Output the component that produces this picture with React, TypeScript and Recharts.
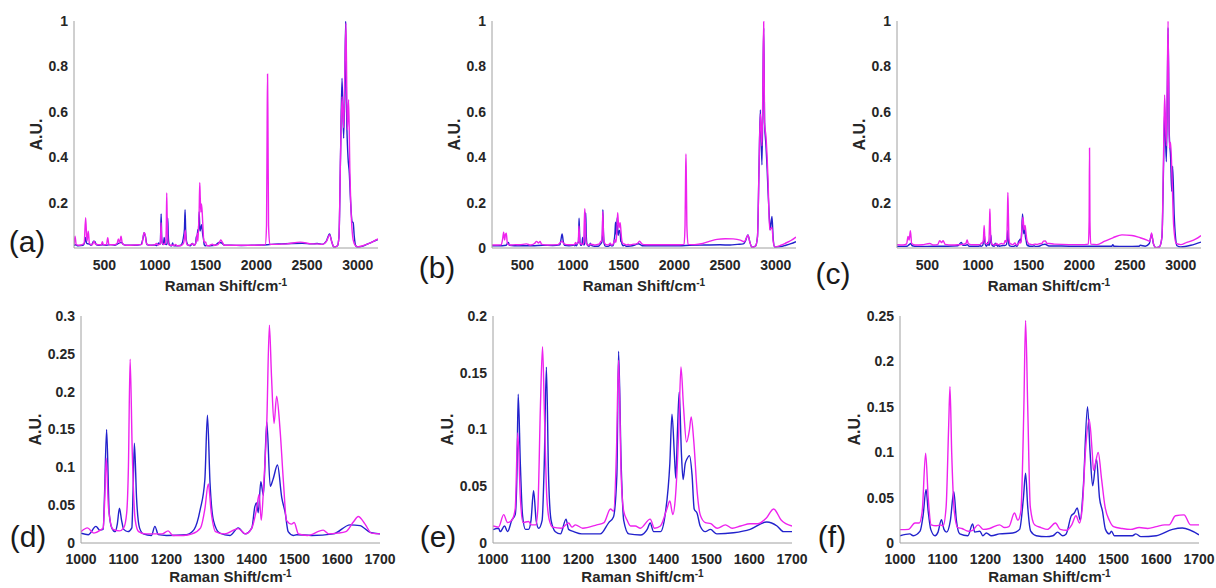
import React from "react";
import { Label, Line, LineChart, XAxis, YAxis } from "recharts";

// ---- spectra, [shift, intensity] pairs ----
// full-range pieces (200-1000 and 1700-3200) + zoomed 1000-1700 pieces

const aBlueLow = [[200,0.012],[215,0.014],[240,0.01],[290,0.012],[305,0.025],[315,0.046],[325,0.02],[345,0.018],[370,0.012],[395,0.03],[405,0.028],[420,0.015],[440,0.012],[480,0.014],[520,0.012],[560,0.015],[600,0.012],[640,0.02],[665,0.025],[690,0.015],[720,0.012],[800,0.012],[860,0.015],[880,0.04],[892,0.067],[905,0.05],[920,0.015],[950,0.012]];
const aMagLow = [[200,0.015],[210,0.052],[222,0.015],[250,0.012],[300,0.02],[315,0.133],[328,0.03],[341,0.074],[352,0.02],[380,0.014],[398,0.03],[410,0.018],[440,0.014],[470,0.014],[480,0.028],[490,0.014],[520,0.014],[533,0.045],[545,0.014],[600,0.014],[625,0.02],[638,0.04],[650,0.022],[664,0.052],[678,0.018],[720,0.012],[800,0.013],[870,0.016],[882,0.05],[892,0.067],[902,0.06],[915,0.02],[950,0.012],[990,0.014]];
const aBlueHigh = [[1750,0.012],[1850,0.011],[1950,0.012],[2050,0.013],[2150,0.016],[2250,0.018],[2350,0.02],[2450,0.021],[2550,0.018],[2600,0.02],[2650,0.016],[2690,0.03],[2722,0.062],[2745,0.025],[2765,0.004],[2800,0.01],[2815,0.05],[2830,0.4],[2845,0.748],[2861,0.484],[2872,0.7],[2881,1.0],[2890,0.6],[2904,0.4],[2917,0.33],[2930,0.2],[2945,0.115],[2955,0.112],[2966,0.05],[2980,0.01],[3000,0.004],[3050,0.008],[3100,0.018],[3150,0.028],[3200,0.038]];
const aMagHigh = [[1750,0.012],[1900,0.012],[2050,0.013],[2088,0.015],[2100,0.1],[2106,0.55],[2110,0.766],[2114,0.55],[2120,0.1],[2132,0.016],[2200,0.016],[2300,0.018],[2433,0.026],[2550,0.018],[2600,0.018],[2650,0.016],[2690,0.028],[2722,0.058],[2745,0.025],[2765,0.004],[2800,0.01],[2815,0.05],[2830,0.4],[2845,0.667],[2861,0.53],[2872,0.75],[2884,0.99],[2897,0.52],[2910,0.653],[2922,0.35],[2935,0.155],[2950,0.05],[2965,0.02],[2985,0.008],[3000,0.005],[3050,0.01],[3100,0.018],[3150,0.028],[3200,0.04]];

const dBlue = [[1000,0.013],[1017,0.011],[1035,0.022],[1044,0.017],[1052,0.018],[1055,0.062],[1060,0.15],[1066,0.04],[1072,0.02],[1080,0.015],[1085,0.025],[1090,0.046],[1095,0.03],[1100,0.018],[1110,0.015],[1119,0.02],[1122,0.07],[1125,0.132],[1130,0.06],[1137,0.02],[1146,0.012],[1165,0.01],[1173,0.022],[1181,0.011],[1200,0.01],[1247,0.011],[1265,0.018],[1279,0.044],[1290,0.084],[1296,0.169],[1302,0.08],[1310,0.03],[1325,0.013],[1349,0.01],[1368,0.02],[1384,0.012],[1400,0.02],[1407,0.048],[1411,0.053],[1415,0.04],[1421,0.081],[1427,0.063],[1435,0.16],[1443,0.075],[1450,0.085],[1460,0.103],[1470,0.06],[1478,0.04],[1485,0.015],[1497,0.01],[1505,0.011],[1540,0.01],[1591,0.012],[1630,0.024],[1653,0.023],[1677,0.014],[1700,0.012]];
const dMag = [[1000,0.015],[1015,0.02],[1030,0.013],[1045,0.017],[1052,0.02],[1055,0.05],[1059,0.112],[1064,0.05],[1068,0.03],[1075,0.018],[1090,0.016],[1100,0.02],[1107,0.04],[1111,0.1],[1115,0.243],[1120,0.12],[1127,0.03],[1135,0.015],[1150,0.012],[1190,0.012],[1204,0.016],[1215,0.01],[1240,0.01],[1260,0.012],[1280,0.02],[1290,0.045],[1298,0.078],[1305,0.04],[1315,0.015],[1335,0.012],[1368,0.019],[1385,0.012],[1400,0.02],[1411,0.045],[1417,0.064],[1422,0.03],[1428,0.08],[1435,0.16],[1441,0.288],[1446,0.22],[1452,0.158],[1458,0.194],[1466,0.15],[1474,0.08],[1481,0.03],[1493,0.025],[1499,0.027],[1509,0.012],[1530,0.01],[1567,0.017],[1580,0.012],[1600,0.013],[1620,0.015],[1638,0.028],[1649,0.035],[1665,0.025],[1680,0.013],[1700,0.012]];

const bBlueLow = [[200,0.01],[300,0.01],[340,0.012],[352,0.02],[362,0.025],[372,0.012],[420,0.01],[500,0.01],[600,0.01],[700,0.012],[800,0.011],[870,0.014],[880,0.035],[892,0.062],[903,0.03],[915,0.012],[960,0.01]];
const bMagLow = [[200,0.013],[290,0.014],[305,0.04],[315,0.07],[325,0.035],[333,0.06],[341,0.065],[352,0.02],[380,0.013],[430,0.015],[470,0.014],[540,0.018],[580,0.013],[620,0.02],[640,0.029],[660,0.022],[675,0.029],[690,0.016],[750,0.013],[850,0.015],[892,0.03],[910,0.018],[960,0.014]];
const bBlueHigh = [[1750,0.01],[1900,0.01],[2050,0.01],[2150,0.012],[2300,0.013],[2450,0.014],[2550,0.013],[2620,0.016],[2680,0.018],[2700,0.03],[2726,0.058],[2745,0.025],[2766,0.003],[2800,0.008],[2820,0.05],[2835,0.35],[2848,0.608],[2864,0.366],[2874,0.7],[2881,0.97],[2890,0.55],[2904,0.45],[2915,0.35],[2924,0.25],[2935,0.15],[2945,0.08],[2963,0.139],[2975,0.04],[2990,0.004],[3050,0.006],[3100,0.012],[3150,0.019],[3200,0.028]];
const bMagHigh = [[1750,0.014],[1900,0.014],[2050,0.014],[2095,0.016],[2105,0.1],[2110,0.3],[2114,0.414],[2118,0.3],[2123,0.1],[2135,0.016],[2200,0.015],[2280,0.02],[2350,0.03],[2420,0.038],[2502,0.041],[2580,0.04],[2650,0.035],[2690,0.028],[2726,0.056],[2745,0.025],[2766,0.003],[2800,0.008],[2820,0.05],[2835,0.35],[2848,0.59],[2864,0.45],[2874,0.75],[2881,0.997],[2890,0.55],[2904,0.49],[2915,0.4],[2924,0.3],[2940,0.08],[2963,0.09],[2975,0.03],[2990,0.005],[3050,0.012],[3100,0.022],[3150,0.033],[3200,0.048]];

const eBlue = [[1000,0.0117],[1013,0.013],[1017,0.01],[1027,0.015],[1034,0.01],[1044,0.02],[1052,0.025],[1056,0.06],[1059,0.131],[1064,0.07],[1069,0.025],[1076,0.012],[1083,0.012],[1089,0.02],[1095,0.046],[1101,0.02],[1107,0.013],[1115,0.02],[1120,0.07],[1125,0.155],[1130,0.06],[1136,0.02],[1146,0.01],[1158,0.008],[1171,0.021],[1177,0.012],[1189,0.01],[1208,0.008],[1251,0.008],[1271,0.018],[1282,0.023],[1290,0.06],[1294,0.169],[1300,0.07],[1306,0.02],[1318,0.008],[1345,0.007],[1361,0.012],[1368,0.0176],[1376,0.01],[1392,0.01],[1403,0.025],[1414,0.07],[1419,0.1135],[1425,0.075],[1428,0.057],[1432,0.1],[1436,0.133],[1441,0.08],[1445,0.056],[1450,0.07],[1454,0.074],[1460,0.077],[1466,0.06],[1471,0.03],[1478,0.026],[1485,0.015],[1497,0.01],[1509,0.012],[1524,0.008],[1563,0.009],[1602,0.012],[1641,0.0185],[1665,0.015],[1680,0.01],[1700,0.01]];
const eMag = [[1000,0.015],[1013,0.014],[1025,0.025],[1034,0.018],[1044,0.02],[1052,0.03],[1058,0.097],[1064,0.04],[1070,0.018],[1083,0.019],[1090,0.016],[1100,0.016],[1105,0.03],[1111,0.12],[1116,0.173],[1120,0.12],[1126,0.04],[1132,0.02],[1140,0.014],[1160,0.013],[1177,0.0176],[1185,0.014],[1193,0.016],[1210,0.013],[1243,0.016],[1260,0.018],[1275,0.03],[1282,0.028],[1289,0.08],[1294,0.161],[1300,0.06],[1306,0.028],[1314,0.02],[1322,0.015],[1333,0.015],[1345,0.013],[1368,0.021],[1378,0.013],[1392,0.015],[1407,0.03],[1414,0.037],[1421,0.025],[1427,0.04],[1435,0.1],[1440,0.155],[1446,0.12],[1453,0.089],[1460,0.1],[1464,0.111],[1470,0.09],[1478,0.045],[1485,0.025],[1497,0.018],[1510,0.017],[1525,0.013],[1544,0.016],[1560,0.013],[1580,0.015],[1602,0.017],[1620,0.017],[1640,0.022],[1657,0.03],[1675,0.02],[1700,0.015]];

const cBlueLow = [[200,0.007],[300,0.008],[320,0.015],[335,0.02],[350,0.01],[400,0.007],[500,0.007],[600,0.008],[700,0.008],[800,0.01],[835,0.025],[850,0.012],[880,0.012],[895,0.015],[910,0.008],[960,0.008]];
const cMagLow = [[200,0.014],[260,0.013],[295,0.018],[309,0.051],[320,0.035],[332,0.076],[345,0.02],[380,0.013],[450,0.014],[523,0.02],[560,0.013],[600,0.015],[622,0.032],[640,0.024],[655,0.032],[675,0.016],[750,0.013],[800,0.014],[850,0.016],[880,0.02],[892,0.035],[905,0.018],[950,0.014]];
const cBlueHigh = [[1750,0.009],[1900,0.008],[2050,0.008],[2150,0.008],[2320,0.008],[2330,0.015],[2340,0.008],[2450,0.007],[2590,0.008],[2600,0.012],[2650,0.008],[2690,0.02],[2712,0.06],[2730,0.02],[2756,0.001],[2790,0.005],[2815,0.05],[2830,0.35],[2841,0.6],[2858,0.38],[2868,0.7],[2875,0.97],[2887,0.5],[2900,0.4],[2911,0.25],[2920,0.36],[2935,0.15],[2950,0.04],[2963,0.01],[3000,0.005],[3100,0.012],[3200,0.026]];
const cMagHigh = [[1750,0.017],[1900,0.015],[2050,0.015],[2088,0.017],[2096,0.12],[2100,0.44],[2104,0.12],[2112,0.017],[2173,0.015],[2250,0.03],[2330,0.045],[2420,0.058],[2518,0.055],[2600,0.045],[2667,0.035],[2695,0.03],[2712,0.066],[2730,0.02],[2756,0.001],[2790,0.005],[2815,0.05],[2830,0.4],[2841,0.674],[2858,0.45],[2868,0.75],[2875,1.0],[2887,0.44],[2900,0.466],[2915,0.3],[2930,0.1],[2955,0.02],[3000,0.015],[3060,0.025],[3100,0.03],[3150,0.04],[3200,0.055]];

const fBlue = [[1000,0.008],[1023,0.01],[1031,0.008],[1047,0.013],[1054,0.03],[1061,0.059],[1066,0.035],[1072,0.015],[1082,0.008],[1089,0.012],[1097,0.0257],[1103,0.015],[1109,0.012],[1118,0.025],[1126,0.0565],[1132,0.025],[1140,0.01],[1159,0.008],[1170,0.021],[1175,0.012],[1187,0.013],[1194,0.008],[1202,0.011],[1214,0.008],[1233,0.01],[1264,0.011],[1280,0.015],[1289,0.05],[1294,0.077],[1299,0.04],[1306,0.013],[1319,0.008],[1342,0.007],[1358,0.008],[1369,0.012],[1381,0.008],[1389,0.01],[1401,0.03],[1408,0.033],[1415,0.0385],[1422,0.025],[1429,0.06],[1439,0.15],[1445,0.1],[1451,0.063],[1460,0.0925],[1467,0.05],[1474,0.035],[1481,0.015],[1490,0.01],[1495,0.013],[1502,0.008],[1544,0.008],[1552,0.01],[1564,0.007],[1600,0.008],[1638,0.015],[1661,0.0165],[1700,0.009]];
const fMag = [[1000,0.0147],[1020,0.015],[1035,0.022],[1045,0.022],[1052,0.035],[1060,0.099],[1066,0.05],[1073,0.02],[1085,0.019],[1095,0.02],[1101,0.019],[1108,0.04],[1114,0.13],[1117,0.172],[1121,0.1],[1127,0.035],[1135,0.017],[1145,0.016],[1160,0.013],[1170,0.014],[1183,0.02],[1195,0.015],[1210,0.016],[1233,0.02],[1245,0.017],[1255,0.018],[1268,0.033],[1276,0.025],[1283,0.035],[1290,0.15],[1294,0.245],[1299,0.15],[1305,0.04],[1315,0.02],[1330,0.017],[1345,0.015],[1364,0.022],[1375,0.015],[1390,0.014],[1402,0.02],[1412,0.03],[1420,0.022],[1427,0.04],[1434,0.1],[1443,0.136],[1450,0.1],[1453,0.08],[1464,0.0997],[1472,0.07],[1480,0.04],[1490,0.025],[1500,0.018],[1520,0.016],[1540,0.015],[1560,0.017],[1580,0.016],[1600,0.018],[1620,0.02],[1630,0.02],[1645,0.03],[1665,0.031],[1680,0.02],[1700,0.02]];

const fullXTicks = [500, 1000, 1500, 2000, 2500, 3000];
const zoomXTicks = [1000, 1100, 1200, 1300, 1400, 1500, 1600, 1700];
const fullYTicks = [0.2, 0.4, 0.6, 0.8, 1];
const fullYTicksZero = [0, 0.2, 0.4, 0.6, 0.8, 1];
const dYTicks = [0, 0.05, 0.1, 0.15, 0.2, 0.25, 0.3];
const eYTicks = [0, 0.05, 0.1, 0.15, 0.2];
const fYTicks = [0, 0.05, 0.1, 0.15, 0.2, 0.25];

const toPts = (arr: number[][]) => arr.map(([x, y]) => ({ x, y }));

const BLUE = "#2222cc";
const MAGENTA = "#ee22ee";
const AXIS = "#a0a0a0";
const TEXT = "#262626";
const FONT = "'Liberation Sans', Arial, sans-serif";
const Y_W = 70;
const RIGHT = 22;

type PanelProps = {
  axisX: number;
  plotTop: number;
  plotW: number;
  plotH: number;
  xDomain: number[];
  xTicks: number[];
  yMax: number;
  yTicks: number[];
  blue: { x: number; y: number }[];
  magenta: { x: number; y: number }[];
  xTickMargin: number;
  xTitleDy: number;
  yTitleDx: number;
};

function Panel(p: PanelProps) {
  const w = Y_W + p.plotW + RIGHT;
  const h = 10 + p.plotH + 45;
  const tick = { fill: TEXT, fontSize: 14, fontWeight: 700, fontFamily: FONT };
  return (
    <div style={{ position: "absolute", left: p.axisX - Y_W, top: p.plotTop - 10 }}>
      <LineChart width={w} height={h} margin={{ top: 10, right: RIGHT, bottom: 0, left: 0 }}>
        <XAxis
          type="number"
          dataKey="x"
          domain={p.xDomain}
          ticks={p.xTicks}
          interval={0}
          allowDataOverflow
          tickLine={false}
          tickSize={0}
          tickMargin={p.xTickMargin}
          axisLine={{ stroke: AXIS }}
          tick={tick}
          height={45}
        >
          <Label
            content={(props: any) => {
              const vb = props.viewBox;
              return (
                <text
                  x={vb.x + vb.width / 2}
                  y={vb.y + p.xTitleDy}
                  textAnchor="middle"
                  fill={TEXT}
                  fontSize={15}
                  fontWeight={700}
                  fontFamily={FONT}
                >
                  Raman Shift/cm
                  <tspan dy={-5} fontSize={10}>-1</tspan>
                </text>
              );
            }}
          />
        </XAxis>
        <YAxis
          type="number"
          domain={[0, p.yMax]}
          ticks={p.yTicks}
          interval={0}
          allowDataOverflow
          tickLine={false}
          tickSize={0}
          tickMargin={6}
          axisLine={{ stroke: AXIS }}
          tick={tick}
          tickFormatter={(v: number) => String(v)}
          width={Y_W}
        >
          <Label
            content={(props: any) => {
              const vb = props.viewBox;
              const cx = vb.x + vb.width - p.yTitleDx;
              const cy = vb.y + vb.height / 2;
              return (
                <text
                  x={cx}
                  y={cy}
                  transform={`rotate(-90 ${cx} ${cy})`}
                  textAnchor="middle"
                  dominantBaseline="central"
                  fill={TEXT}
                  fontSize={16}
                  fontWeight={700}
                  fontFamily={FONT}
                >
                  A.U.
                </text>
              );
            }}
          />
        </YAxis>
        <Line data={p.blue} dataKey="y" type="monotone" stroke={BLUE} strokeWidth={1.4} dot={false} isAnimationActive={false} />
        <Line data={p.magenta} dataKey="y" type="monotone" stroke={MAGENTA} strokeWidth={1.4} dot={false} isAnimationActive={false} />
      </LineChart>
    </div>
  );
}

const top = { plotTop: 21, plotW: 304, plotH: 227, xDomain: [200, 3200], xTicks: fullXTicks, yMax: 1, xTickMargin: 12, xTitleDy: 43, yTitleDx: 38 };
const bottom = { plotTop: 316, plotW: 299, plotH: 227, xDomain: [1000, 1700], xTicks: zoomXTicks, xTickMargin: 11, xTitleDy: 39, yTitleDx: 46 };

const letters = [
  { t: "(a)", x: 27, y: 242 },
  { t: "(b)", x: 437, y: 268 },
  { t: "(c)", x: 833, y: 274 },
  { t: "(d)", x: 28, y: 537 },
  { t: "(e)", x: 438, y: 537 },
  { t: "(f)", x: 832, y: 537 },
];

export default function App() {
  return (
    <div style={{ position: "absolute", left: 0, top: 0, width: 1216, height: 588, background: "#fff", overflow: "hidden" }}>
      <Panel {...top} axisX={74} yTicks={fullYTicks}
        blue={toPts([...aBlueLow, ...dBlue, ...aBlueHigh])}
        magenta={toPts([...aMagLow, ...dMag, ...aMagHigh])} />
      <Panel {...top} axisX={492} yTicks={fullYTicksZero}
        blue={toPts([...bBlueLow, ...eBlue, ...bBlueHigh])}
        magenta={toPts([...bMagLow, ...eMag, ...bMagHigh])} />
      <Panel {...top} axisX={897} yTicks={fullYTicks}
        blue={toPts([...cBlueLow, ...fBlue, ...cBlueHigh])}
        magenta={toPts([...cMagLow, ...fMag, ...cMagHigh])} />
      <Panel {...bottom} axisX={81} yMax={0.3} yTicks={dYTicks} blue={toPts(dBlue)} magenta={toPts(dMag)} />
      <Panel {...bottom} axisX={493} yMax={0.2} yTicks={eYTicks} blue={toPts(eBlue)} magenta={toPts(eMag)} />
      <Panel {...bottom} axisX={900} yMax={0.25} yTicks={fYTicks} blue={toPts(fBlue)} magenta={toPts(fMag)} />
      {letters.map((l) => (
        <div
          key={l.t}
          style={{
            position: "absolute",
            left: l.x,
            top: l.y,
            transform: "translate(-50%, -50%)",
            fontFamily: FONT,
            fontSize: 30,
            lineHeight: 1,
            color: "#1a1a1a",
          }}
        >
          {l.t}
        </div>
      ))}
    </div>
  );
}
